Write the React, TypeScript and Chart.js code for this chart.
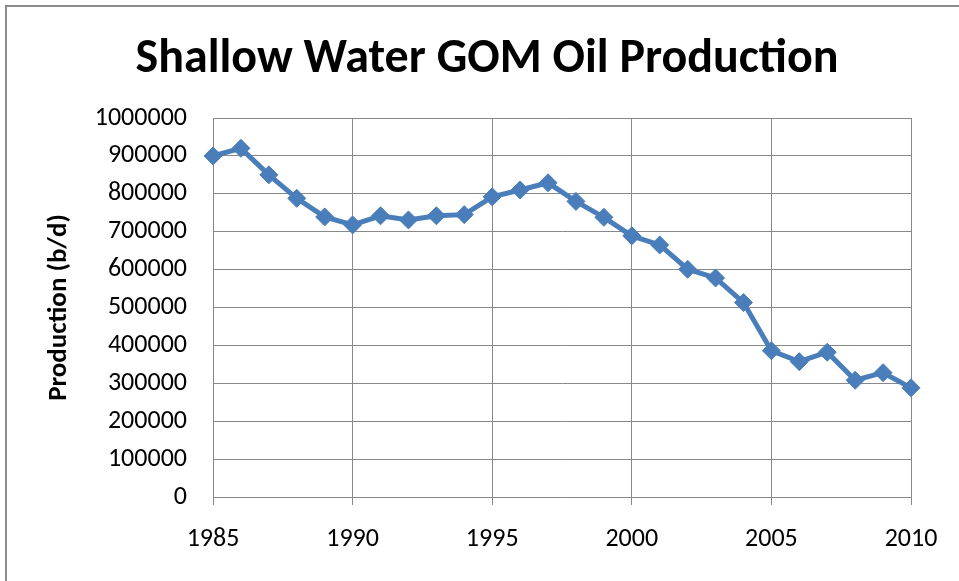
import React, { useEffect, useRef } from "react";
import { Chart, registerables } from "chart.js";

Chart.register(...registerables);

const years: number[] = [
  1985, 1986, 1987, 1988, 1989, 1990, 1991, 1992, 1993, 1994, 1995, 1996, 1997,
  1998, 1999, 2000, 2001, 2002, 2003, 2004, 2005, 2006, 2007, 2008, 2009, 2010,
];
const production: number[] = [
  900000, 920000, 850000, 788000, 739000, 718000, 742000, 731000, 742000, 745000,
  792000, 810000, 829000, 780000, 738000, 689000, 665000, 601000, 578000, 513000,
  386000, 357000, 382000, 308000, 328000, 288000,
];
const titleText = "Shallow Water GOM Oil Production";
const yAxisTitle = "Production (b/d)";

const FONT = "Carlito, Lato, 'Open Sans', sans-serif";
const BLUE = "#4a7ebb";
const GRID = "#888888";

const framePlugin = {
  id: "frameAndTitle",
  beforeDraw(chart: any) {
    const ctx = chart.ctx;
    ctx.save();
    ctx.fillStyle = "#ffffff";
    ctx.fillRect(0, 0, chart.width, chart.height);
    ctx.strokeStyle = "#8c8c8c";
    ctx.lineWidth = 2;
    ctx.beginPath();
    ctx.moveTo(6, chart.height);
    ctx.lineTo(6, 6);
    ctx.lineTo(chart.width, 6);
    ctx.stroke();
    ctx.restore();
  },
  afterDraw(chart: any) {
    const ctx = chart.ctx;
    ctx.save();
    ctx.fillStyle = "#000000";
    ctx.font = `bold 48px ${FONT}`;
    ctx.textAlign = "center";
    ctx.textBaseline = "middle";
    ctx.fillText(titleText, 487, 60);
    ctx.restore();
  },
};

export default function App() {
  const ref = useRef<HTMLCanvasElement | null>(null);

  useEffect(() => {
    document.body.style.margin = "0";
    const canvas = ref.current;
    if (!canvas) return;
    const chart = new Chart(canvas, {
      type: "line",
      data: {
        datasets: [
          {
            label: "Production",
            data: years.map((x, i) => ({ x, y: production[i] })),
            borderColor: BLUE,
            backgroundColor: BLUE,
            borderWidth: 5,
            pointStyle: "rectRot",
            pointRadius: 9,
            pointBackgroundColor: BLUE,
            pointBorderColor: BLUE,
            pointBorderWidth: 1,
            tension: 0,
            clip: false as any,
          },
        ],
      },
      plugins: [framePlugin],
      options: {
        animation: false,
        responsive: false,
        maintainAspectRatio: false,
        layout: { padding: { top: 118, right: 48, left: 0, bottom: 0 } },
        plugins: {
          legend: { display: false },
          title: { display: false },
          tooltip: { enabled: false },
        },
        scales: {
          x: {
            type: "linear",
            min: 1985,
            max: 2010,
            afterFit: (s: any) => {
              s.height = 84;
            },
            ticks: {
              stepSize: 5,
              color: "#000000",
              font: { family: FONT, size: 26 },
              padding: 19,
              maxRotation: 0,
              callback: (v: any) => String(v),
            },
            grid: {
              color: GRID,
              lineWidth: 1,
              drawTicks: true,
              tickLength: 8,
            },
            border: { color: GRID, width: 1 },
          },
          y: {
            min: 0,
            max: 1000000,
            afterFit: (s: any) => {
              s.width = 213;
            },
            ticks: {
              stepSize: 100000,
              color: "#000000",
              font: { family: FONT, size: 26 },
              padding: 26,
              callback: (v: any) => String(v),
            },
            grid: { color: GRID, lineWidth: 1, drawTicks: false },
            border: { color: GRID, width: 1 },
            title: {
              display: true,
              text: yAxisTitle,
              color: "#000000",
              font: { family: FONT, size: 27, weight: "bold" },
              padding: { top: 43, bottom: 0 },
            },
          },
        },
      },
    });
    return () => chart.destroy();
  }, []);

  return (
    <canvas
      ref={ref}
      width={959}
      height={581}
      style={{ display: "block", width: 959, height: 581 }}
    />
  );
}
